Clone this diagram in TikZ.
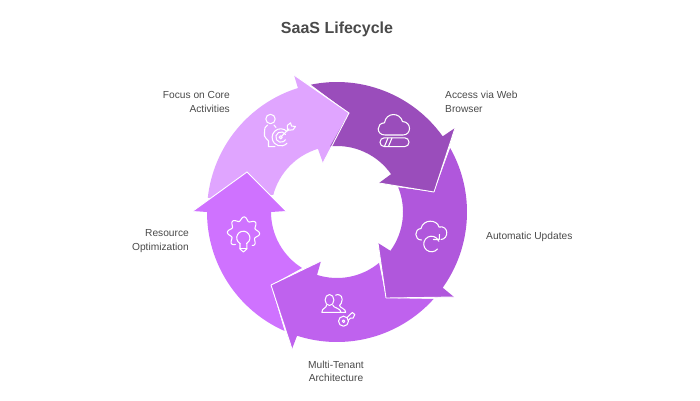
\documentclass[tikz,border=0pt]{standalone}
\usepackage{fontspec}
\setmainfont{Liberation Sans}
\definecolor{cLight}{HTML}{E0A5FF}
\definecolor{cDark}{HTML}{9A4DBB}
\definecolor{cMed}{HTML}{B057DC}
\definecolor{cMulti}{HTML}{BF62EE}
\definecolor{cRes}{HTML}{CF72FF}
\definecolor{cText}{HTML}{4A4A4A}
\newcommand{\pc}[2]{([shift={(337,212)}]-1*#1:#2)}
\newcommand{\ar}[3]{arc[start angle={-1*#1},end angle={-1*#2},radius=#3]}
\tikzset{
  edgeline/.style={draw=white,line width=0.9pt},
  icon/.style={draw=white,line width=1.05pt,line cap=round,line join=round,fill=none},
  label/.style={text=cText,font=\fontsize{10.2}{13.6}\selectfont,inner sep=0pt},
  titlelabel/.style={text=cText,font=\fontsize{16}{18}\selectfont\bfseries,inner sep=0pt}
}
\begin{document}
\begin{tikzpicture}[x=1pt,y=1pt,yscale=-1]
\useasboundingbox (0,0) rectangle (700,400);
\fill[white] (0,0) rectangle (700,400);
% Focus (light)
\fill[cLight] \pc{107.5}{130} \ar{107.5}{173.8}{130} -- \pc{165}{66} \ar{165}{106.8}{66} -- (323,163) -- (349,113) -- (294,75) -- cycle;
% Access (dark)
\fill[cDark] \pc{101.6}{130} \ar{101.6}{35.6}{130} -- (455,128) -- (434,192) -- (379,183) -- \pc{35}{66} \ar{35}{96}{66} -- (349,113) -- cycle;
% Automatic (medium)
\fill[cMed] \pc{29.5}{130} \ar{29.5}{-35.6}{130} -- (454,297) -- (386,298) -- (378,243) -- \pc{-36}{66} \ar{-36}{22}{66} -- (434,192) -- cycle;
% Multi
\fill[cMulti] \pc{-42}{130} \ar{-42}{-107.9}{130} -- (292,349) -- (271,285) -- (321,261) -- \pc{-107.6}{66} \ar{-107.6}{-50.4}{66} -- (386,298) -- cycle;
% Resource
\fill[cRes] \pc{180}{130} \ar{180}{246.2}{130} -- (271,285) -- \pc{238}{66} \ar{238}{180}{66} -- (286,211) -- (247,172) -- (193,211) -- cycle;
% white edges of heads
\draw[edgeline] (294,75) -- (349,113) -- (323,163);
\draw[edgeline] (434,192) -- (455,128);
\draw[edgeline] (379,183) -- (434,192);
\draw[edgeline] (386,298) -- (454,297);
\draw[edgeline] (378,243) -- (386,298);
\draw[edgeline] (271,285) -- (321,261);
\draw[edgeline] (271,285) -- (292,349);
\draw[edgeline] (193,211) -- (247,172) -- (286,211);
% Icon: person + target
\draw[icon] (270.5,119) circle[radius=4.7];
\draw[icon] (267.5,125) .. controls (264.5,126.5) and (264.5,129) .. (264.5,132) -- (264.5,136) .. controls (264.5,138.5) and (268,139) .. (268.5,141) -- (268.5,146.7) -- (275,146.7);
\draw[icon] (274,125) -- (276,127.5);
\draw[icon] (287,131.5) arc[start angle=-43,end angle=-317,radius=8.6];
\draw[icon] (285.5,134.5) arc[start angle=-30,end angle=-330,radius=5.2];
\draw[icon] (280.7,137.3) circle[radius=1.6];
\draw[icon] (280.7,137.3) -- (289,128.8);
\draw[icon] (287.5,130.3) -- (287.3,125.5) -- (290.5,122.8) -- (291.5,126) -- (295.5,126.5) -- (293,129.8) -- (287.5,130.3);
% Icon: cloud + pill
\draw[icon] (385,135) .. controls (376,135) and (376,123) .. (384.5,122.8) .. controls (386,112) and (400,112) .. (402.5,121.5) .. controls (412,122) and (411.5,135) .. (403,135) -- cycle;
\draw[icon,rounded corners=4.3pt] (380,137.8) rectangle (409,146.6);
\draw[icon] (384.5,146.3) -- (388,138);
\draw[icon] (388.5,146.3) -- (392,138);
% Icon: cloud + refresh
\draw[icon] (421.5,240) .. controls (414,240) and (414,229) .. (421,228.5) .. controls (423,219) and (437,219) .. (439,227) .. controls (449,225) and (449,239) .. (441,239.5);
\draw[icon] (437.5,249) arc[start angle=40,end angle=340,radius=7.8];
\draw[icon] (433.5,239.5) -- (439.2,239.5) -- (439.5,234.5);
% Icon: people + key
\draw[icon] (329.5,300) circle[x radius=4.4,y radius=5.5];
\draw[icon] (335.5,295.2) .. controls (338,293.6) and (342.2,295) .. (342.2,299.5) .. controls (342.2,302.5) and (340.5,304.5) .. (339.5,305.5) .. controls (340,308) and (345.7,308.5) .. (345.7,312.3) -- (341,312.3);
\draw[icon] (326.5,305) .. controls (327,308) and (321.8,308) .. (321.8,312.3) -- (341,312.3) .. controls (341,308) and (333,308) .. (332.7,305);
\draw[icon] (343.5,321.2) circle[radius=5];
\draw[icon] (343.5,321.2) circle[radius=1.3];
\draw[icon] (347,317.5) -- (352.3,312.5) -- (354.8,314.5) -- (353,318.2) -- (350.3,318.2) -- (348.2,320.5);
% Icon: gear + bulb
\draw[icon] plot[domain=-55:235,samples=120,smooth] ({243.5+(14.2+1.9*cos(8*\x+20))*cos(\x)},{233-(14.2+1.9*cos(8*\x+20))*sin(\x)});
\draw[icon] (240,243.5) arc[start angle=120,end angle=420,radius=6.6];
\draw[icon] (240,243.5) -- (240,249) -- (243.4,252) -- (246.8,249) -- (246.8,243.5);
\draw[icon] (240,248.5) -- (246.8,248.5);
% Text
\node[titlelabel] (title) at (337,29.5) {SaaS Lifecycle};
\node[label,anchor=east,align=right] (focus) at (230,102) {Focus on Core\\Activities};
\node[label,anchor=west,align=left] (access) at (445,102) {Access via Web\\Browser};
\node[label,anchor=west] (auto) at (486,236.5) {Automatic Updates};
\node[label,anchor=east,align=right] (res) at (189,241) {Resource\\Optimization};
\node[label,align=center] (multi) at (336,371.5) {Multi-Tenant\\Architecture};
\end{tikzpicture}
\end{document}
